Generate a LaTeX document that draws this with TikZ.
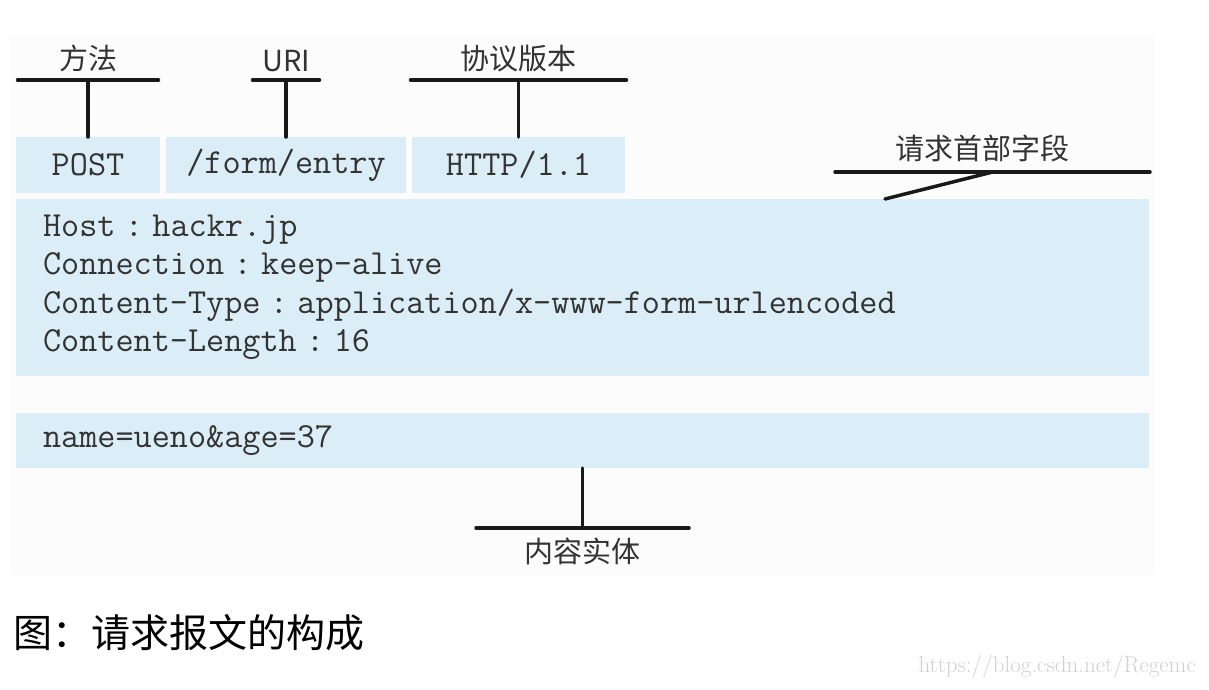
\documentclass[tikz,border=0pt]{standalone}
\usepackage{fontspec}
\newfontfamily\cjk{Noto Sans CJK SC}
\definecolor{boxblue}{RGB}{219,238,248}
\newcommand\wcolon{\makebox[36.96pt]{:}}

\begin{document}
\begin{tikzpicture}[x=1pt,y=-1pt,
  field/.style={fill=boxblue,inner sep=0pt,outer sep=0pt,minimum height=56pt,
    text=black!80,font=\ttfamily\fontsize{35.2}{38.5}\selectfont},
  toptag/.style={minimum width=#1,inner xsep=0pt,inner ysep=8pt,outer sep=0pt,
    anchor=south,text=black!80,font=\cjk\fontsize{29}{29}\selectfont},
  bar/.style={line width=3.5pt,black!90,line cap=round}]
  \useasboundingbox (0,0) rectangle (1209,689);
  \fill[white] (0,0) rectangle (1209,689);
  \fill[black!1] (10,35) rectangle (1155,575);

  \node[field,minimum width=144pt] (post) at (88,165) {\raisebox{-3pt}{POST}};
  \node[field,minimum width=240pt] (uri) at (286,165) {\raisebox{-3pt}{/form/entry}};
  \node[field,minimum width=213pt] (ver) at (518.5,165) {\raisebox{-3pt}{HTTP/1.1}};
  \node[field,minimum width=1133pt,minimum height=177pt,text width=1079pt,
    inner xsep=27pt,align=left] (headers) at (582.5,287.5)
    {Host\wcolon hackr.jp\\
     Connection\wcolon keep-alive\\
     Content-Type\wcolon application/x-www-form-urlencoded\\
     Content-Length\wcolon 16};
  \node[field,minimum width=1133pt,minimum height=55pt,text width=1079pt,
    inner xsep=27pt,align=left] (body) at (582.5,440.5) {name=ueno\&age=37};

  \coordinate (topline) at (0,80);
  \foreach \b/\w/\t in {post/141/方法,uri/67/URI,ver/216/协议版本} {
    \node[toptag=\w pt] (\b-tag) at (\b.north |- topline) {\t};
    \draw[bar] (\b-tag.south west) -- (\b-tag.south east);
    \draw[bar] (\b-tag.south) -- (\b.north);
  }

  \node[toptag=315pt,inner ysep=10pt] (fieldtag) at (992.5,172) {\hspace*{-20pt}请求首部字段};
  \coordinate (fieldtip) at (885,199);
  \draw[bar] (fieldtag.south west) -- (fieldtag.south east);
  \draw[bar] (fieldtag.south) -- (fieldtip);

  \node[toptag=213pt,anchor=north,inner ysep=10pt] (bodytag) at (582.5,528) {内容实体};
  \draw[bar] (bodytag.north west) -- (bodytag.north east);
  \draw[bar] (bodytag.north) -- (bodytag.north |- body.south);

  \node[anchor=west,inner sep=0pt,font=\cjk\fontsize{39}{39}\selectfont] (caption)
    at (13,633) {图：请求报文的构成};
  \node[anchor=east,inner sep=0pt,text=black!18,font=\fontsize{23}{23}\selectfont] (mark)
    at (1196,667) {https://blog.csdn.net/Regemc};
\end{tikzpicture}
\end{document}
